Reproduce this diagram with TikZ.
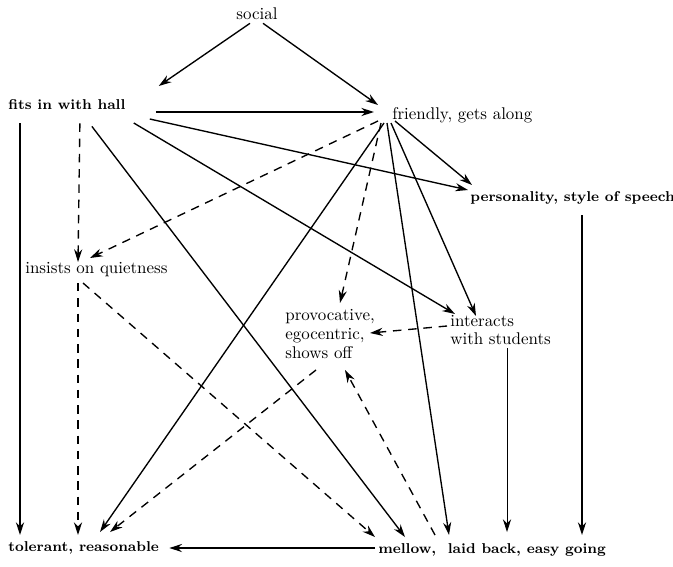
\documentclass[tikz,border=0pt]{standalone}
\usepackage{tikz}
\usetikzlibrary{arrows.meta}

\begin{document}
\begin{tikzpicture}[x=0.59pt, y=-0.59pt,
    lbl/.style={anchor=west, inner sep=0pt, font=\fontsize{10}{11}\selectfont},
    bflbl/.style={lbl, font=\fontsize{8.4}{11}\selectfont\bfseries},
    arr/.style={-{Stealth[length=7.5pt, width=4.8pt]}, line width=0.8pt},
    darr/.style={arr, dash pattern=on 5pt off 4pt}]
  \useasboundingbox (0,0) rectangle (673,566);
  % Traits
  \node[lbl, anchor=center] (social) at (257,14) {social};
  \node[bflbl] (fits) at (8,105) {fits in with hall};
  \node[lbl] (friendly) at (392,115) {friendly, gets along};
  \node[bflbl] (personality) at (470,198) {personality, style of speech};
  \node[lbl] (insists) at (25,270) {insists on quietness};
  \node[lbl, align=left] (provocative) at (285,334) {provocative,\\egocentric,\\shows off};
  \node[lbl, align=left] (interacts) at (450,330) {interacts\\with students};
  \node[bflbl] (tolerant) at (8,548) {tolerant, reasonable};
  \node[bflbl] (mellow) at (378,550) {mellow,\ \ laid back, easy going};
  % From social
  \draw[arr] ([shift={(-7,3)}]social.south) -- ([shift={(33,-19)}]fits.east);
  \draw[arr] ([shift={(6,3)}]social.south) -- ([shift={(-14,-10)}]friendly.west);
  % From fits in with hall
  \draw[arr] ([shift={(30,7)}]fits.east) -- ([shift={(-18,-3)}]friendly.west);
  \draw[arr] ([shift={(24,14)}]fits.east) -- ([shift={(-2,-8)}]personality.west);
  \draw[arr] ([shift={(8,18)}]fits.east) -- ([shift={(5,-16)}]interacts.west);
  \draw[arr] ([shift={(25,16)}]fits.south) -- ([shift={(27,-13)}]mellow.west);
  \draw[darr] ([shift={(13,13)}]fits.south) -- ([shift={(53,-8)}]insists.west);
  \draw[arr] ([shift={(12,13)}]fits.south west) -- ([shift={(12,-13)}]tolerant.west);
  % From friendly, gets along
  \draw[darr] ([shift={(-14,6)}]friendly.west) -- ([shift={(65,-12)}]insists.west);
  \draw[darr] ([shift={(-11,8)}]friendly.west) -- ([shift={(55,-31)}]provocative.west);
  \draw[arr] ([shift={(-8,8)}]friendly.west) -- ([shift={(92,-16)}]tolerant.west);
  \draw[arr] ([shift={(-5,8)}]friendly.west) -- ([shift={(71,-15)}]mellow.west);
  \draw[arr] ([shift={(-1,8)}]friendly.west) -- ([shift={(26,-14)}]interacts.west);
  \draw[arr] ([shift={(3,6)}]friendly.west) -- ([shift={(2,-13)}]personality.west);
  % Lower links
  \draw[darr] ([shift={(58,13)}]insists.west) -- ([shift={(-3,-13)}]mellow.west);
  \draw[darr] ([shift={(53,13)}]insists.west) -- ([shift={(70,-13)}]tolerant.west);
  \draw[darr] ([shift={(31,36)}]provocative.west) -- ([shift={(102,-16)}]tolerant.west);
  \draw[darr] ([shift={(57,-15)}]mellow.west) -- ([shift={(60,36)}]provocative.west);
  \draw[darr] ([shift={(-3,-4)}]interacts.west) -- ([shift={(85,-1)}]provocative.west);
  \draw[-{Stealth[length=7.5pt, width=4.8pt]}, line width=0.5pt] ([shift={(57,18)}]interacts.west) -- ([shift={(129,-18)}]mellow.west);
  \draw[arr] ([shift={(112,17)}]personality.west) -- ([shift={(204,-15)}]mellow.west);
  \draw[arr] ([shift={(-3,-2)}]mellow.west) -- ([shift={(10,0)}]tolerant.east);
\end{tikzpicture}
\end{document}
